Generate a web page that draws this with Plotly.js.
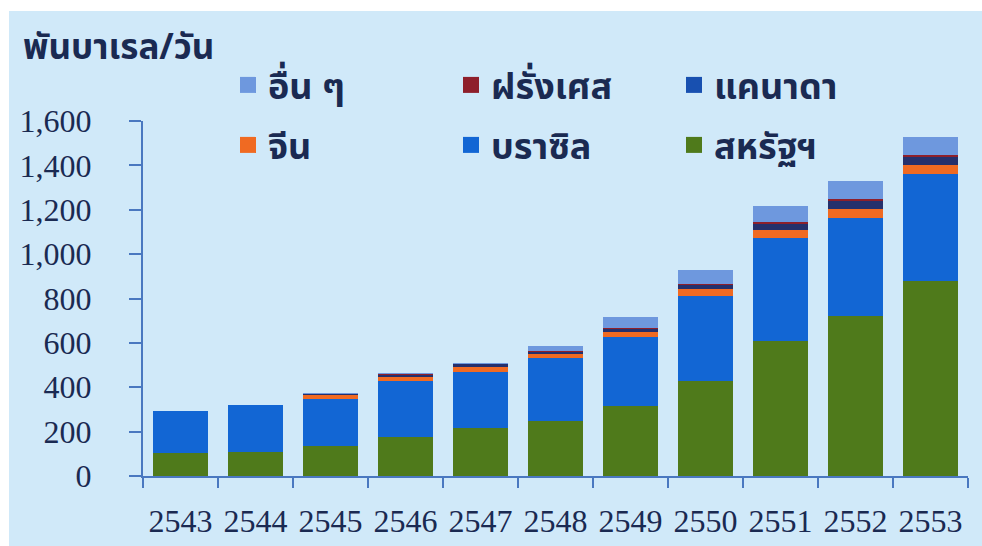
<!DOCTYPE html>
<html>
<head>
<meta charset="utf-8">
<script src="https://cdn.plot.ly/plotly-3.0.1.min.js"></script>
<style>
html,body{margin:0;padding:0;background:#ffffff;width:982px;height:546px;overflow:hidden;}
#chart{position:absolute;left:9px;top:11px;width:973px;height:535px;}
</style>
</head>
<body>
<div id="chart"></div>
<script>
const years = ['2543','2544','2545','2546','2547','2548','2549','2550','2551','2552','2553'];
const usa    = [105, 110, 135, 177, 218, 250, 316, 429, 609, 719, 877];
const brazil = [190, 210, 213, 252, 252, 281, 310, 381, 464, 444, 482];
const china  = [0,   0,   15,  18,  21,  20,  25,  31,  35,  40,  41];
const canada = [0,   0,   5,   10,  12,  10,  12,  22,  30,  38,  36];
const france = [0,   0,   3,   3,   3,   3,   4,   4,   6,   7,   10];
const others = [0,   0,   5,   4,   5,   20,  49,  60,  75,  83,  83];

const names = ['สหรัฐฯ','บราซิล','จีน','แคนาดา','ฝรั่งเศส','อื่น ๆ'];
const series = [usa, brazil, china, canada, france, others];
const colors = ['#4f7a1b','#1266d4','#f06a22','#25306c','#8e1f2b','#6e98de'];
const legendColors = ['#4f7a1b','#1266d4','#f06a22','#1850b0','#8e1f2b','#6e98de'];
const legendOf = ['legend2','legend2','legend2','legend','legend','legend'];

const thaiFont = '"Noto Sans Thai", "Noto Sans Thai UI", "Noto Sans", "DejaVu Sans", sans-serif';
const textColor = '#1a2a52';

const traces = series.map((vals, i) => ({
  type: 'bar',
  x: years,
  y: vals,
  name: names[i],
  legend: legendOf[i],
  marker: {color: colors[i], line: {width: 0}},
  showlegend: false
}));
series.forEach((vals, i) => {
  traces.push({
    type: 'scatter',
    mode: 'markers',
    x: [null],
    y: [null],
    name: names[i],
    legend: legendOf[i],
    marker: {symbol: 'square', size: 20, color: legendColors[i]},
    showlegend: true
  });
});

const plotTop = 21, plotBottom = 476, axisTop = 121;
const paperH = plotBottom - plotTop;

const legendCommon = {
  orientation: 'h', traceorder: 'reversed',
  xref: 'paper', xanchor: 'left', x: (228 - 143) / 825,
  yref: 'paper', yanchor: 'middle',
  bgcolor: 'rgba(0,0,0,0)',
  entrywidth: 178, entrywidthmode: 'pixels',
  itemwidth: 30,
  font: {family: thaiFont, size: 36, color: textColor, weight: 'bold'}
};

const layout = {
  width: 973,
  height: 535,
  paper_bgcolor: '#d0e9f9',
  plot_bgcolor: '#d0e9f9',
  barmode: 'stack',
  bargap: 0.27,
  margin: {l: 134, r: 14, t: plotTop - 11, b: 535 - (plotBottom - 11), autoexpand: false},
  font: {family: 'Liberation Serif, serif', color: textColor},
  title: {
    text: 'พันบาเรล/วัน',
    font: {family: thaiFont, size: 35, color: textColor, weight: 'bold'},
    xref: 'container', yref: 'container',
    x: 14/973, xanchor: 'left',
    y: 1 - 36/535, yanchor: 'middle'
  },
  xaxis: {
    type: 'category',
    tickangle: 0,
    showline: true, linecolor: '#4a78c0', linewidth: 2,
    ticks: 'outside', tickson: 'boundaries', ticklen: 10, tickwidth: 2, tickcolor: '#4a78c0',
    tickfont: {family: 'Liberation Serif, serif', size: 32, color: textColor},
    ticklabelstandoff: 16,
    showgrid: false, zeroline: false,
    fixedrange: true
  },
  yaxis: {
    domain: [0, (plotBottom - axisTop) / paperH],
    range: [0, 1600],
    dtick: 200, tick0: 0,
    tickformat: ',d',
    showline: true, linecolor: '#4a78c0', linewidth: 2,
    ticks: 'outside', ticklen: 12, tickwidth: 2, tickcolor: '#4a78c0',
    tickfont: {family: 'Liberation Serif, serif', size: 32, color: textColor},
    ticklabelstandoff: 31,
    showgrid: false, zeroline: false,
    fixedrange: true
  },
  legend: Object.assign({}, legendCommon, {y: (plotBottom - 85) / paperH}),
  legend2: Object.assign({}, legendCommon, {y: (plotBottom - 145) / paperH}),
  showlegend: true
};

Plotly.newPlot('chart', traces, layout, {displayModeBar: false, staticPlot: true});
</script>
</body>
</html>
